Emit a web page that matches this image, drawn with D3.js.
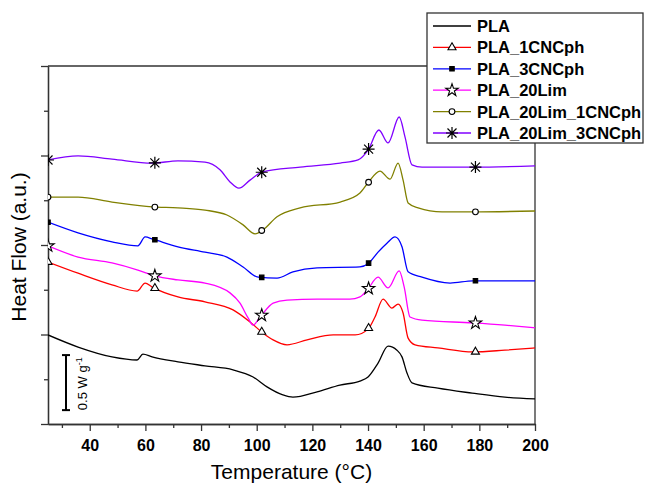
<!DOCTYPE html>
<html>
<head>
<meta charset="utf-8">
<script src="https://cdn.jsdelivr.net/npm/d3@7"></script>
<style>
  body { margin: 0; background: #fff; }
  text { font-family: "Liberation Sans", Arial, sans-serif; fill: #000; }
</style>
</head>
<body>
<svg id="chart" width="646" height="486"></svg>
<script>
// DSC traces, temperature (°C) and heat flow (a.u.)
var tPLA  = [25, 35.8, 48, 57, 59.1, 62.4, 71.7, 81.4, 91.5, 98.7, 103.7, 109.4, 113, 121.7, 129.9, 137.1, 140, 143.6, 147.2, 150.4, 152.2, 154, 155.8, 165.1, 177.4, 189.2, 200];
var hfPLA = [1.99, 1.72, 1.50, 1.43, 1.56, 1.50, 1.39, 1.30, 1.21, 1.05, 0.83, 0.65, 0.60, 0.72, 0.87, 0.96, 1.05, 1.36, 1.74, 1.65, 1.50, 1.14, 0.92, 0.80, 0.69, 0.60, 0.56];

var t1CN  = [25, 35.8, 48, 57, 59.9, 62.4, 71.7, 81.4, 91.5, 97.6, 102.3, 105.9, 110.9, 118.1, 127.5, 135.4, 140, 142.5, 145.4, 148.6, 150.8, 152.6, 154.4, 156.9, 165.1, 177.7, 189.2, 200];
var hf1CN = [3.62, 3.37, 3.11, 2.97, 3.15, 3.06, 2.84, 2.73, 2.55, 2.28, 2.03, 1.88, 1.77, 1.88, 1.99, 1.99, 2.12, 2.39, 2.79, 2.59, 2.68, 2.48, 1.92, 1.77, 1.70, 1.61, 1.65, 1.70];

var t3CN  = [25, 35.8, 48, 57.3, 59.9, 62.7, 71.7, 81.4, 89.3, 95.1, 100.5, 107.3, 113, 121.7, 137.1, 140, 143.6, 146.8, 149.7, 152.2, 154.4, 159.4, 169.5, 177.7, 200];
var hf3CN = [4.51, 4.27, 4.07, 3.98, 4.18, 4.13, 3.96, 3.84, 3.73, 3.51, 3.28, 3.26, 3.40, 3.49, 3.51, 3.58, 3.84, 4.04, 4.18, 3.96, 3.40, 3.28, 3.15, 3.20, 3.20];

var tLim  = [25, 35.8, 48, 57.3, 63.4, 71.7, 81.4, 90.4, 94, 96.9, 98.7, 101.2, 105.9, 110.9, 121.7, 133.5, 137.1, 139.7, 143.6, 147.2, 151.2, 153, 155.1, 159.4, 177.7, 189.2, 200];
var hfLim = [3.98, 3.73, 3.60, 3.44, 3.31, 3.22, 3.15, 2.93, 2.70, 2.37, 2.21, 2.39, 2.70, 2.77, 2.79, 2.79, 2.84, 2.99, 3.28, 3.04, 3.42, 3.06, 2.39, 2.32, 2.26, 2.21, 2.15];

var tLim1  = [25, 35.8, 48, 62.4, 71.7, 81.4, 89.3, 95.1, 99.4, 102.3, 107.3, 115.6, 130, 137.1, 140, 144.3, 147.9, 150.8, 152.6, 154.4, 158, 166.6, 177.7, 200];
var hfLim1 = [5.07, 5.07, 4.96, 4.85, 4.83, 4.78, 4.67, 4.45, 4.25, 4.34, 4.63, 4.83, 4.96, 5.16, 5.39, 5.65, 5.47, 5.83, 5.45, 4.94, 4.83, 4.74, 4.74, 4.76];

var tLim3  = [25, 35.8, 48, 62.4, 71.7, 81.4, 86.8, 90.4, 93.6, 97.6, 101.9, 115.6, 130, 136.4, 140, 143.9, 147.2, 151.2, 153.3, 155.8, 159.4, 177.7, 200];
var hfLim3 = [5.90, 5.99, 5.92, 5.83, 5.88, 5.85, 5.68, 5.41, 5.27, 5.45, 5.63, 5.74, 5.83, 5.90, 6.12, 6.57, 6.28, 6.86, 6.41, 5.79, 5.74, 5.74, 5.77];

var seriesNames = ["PLA", "PLA_1CNCph", "PLA_3CNCph", "PLA_20Lim", "PLA_20Lim_1CNCph", "PLA_20Lim_3CNCph"];
var markerTemps = [25, 63.4, 101.8, 140.2, 178.6];
var xMajor = [40, 60, 80, 100, 120, 140, 160, 180, 200];
var xMinor = [30, 50, 70, 90, 110, 130, 150, 170, 190];
var yMajor = [0, 2, 4, 6, 8];
var yMinor = [1, 3, 5, 7];
var scaleBar = [0.31, 1.54];   // 0.5 W/g

var series = [
  {name: seriesNames[0], t: tPLA,  v: hfPLA,  color: "#000000", marker: null},
  {name: seriesNames[1], t: t1CN,  v: hf1CN,  color: "#ff0000", marker: "triangle"},
  {name: seriesNames[2], t: t3CN,  v: hf3CN,  color: "#0000ff", marker: "square"},
  {name: seriesNames[3], t: tLim,  v: hfLim,  color: "#ff00ff", marker: "star"},
  {name: seriesNames[4], t: tLim1, v: hfLim1, color: "#808000", marker: "circle"},
  {name: seriesNames[5], t: tLim3, v: hfLim3, color: "#8000ff", marker: "asterisk"}
];

var svg = d3.select("#chart");
var x = d3.scaleLinear().domain([25, 200]).range([48, 535]);
var y = d3.scaleLinear().domain([0, 8]).range([424, 66]);

svg.append("clipPath").attr("id", "plot")
  .append("rect").attr("x", 48).attr("y", 66).attr("width", 487).attr("height", 358);

// frame top / right
svg.append("line").attr("x1", x(25)).attr("x2", x(200)).attr("y1", y(8)).attr("y2", y(8))
  .attr("stroke", "#333").attr("stroke-width", 1.3);
svg.append("line").attr("x1", x(200)).attr("x2", x(200)).attr("y1", y(8)).attr("y2", y(0))
  .attr("stroke", "#333").attr("stroke-width", 1.3);

var styleAxis = function(g) {
  g.selectAll("path, line").attr("stroke", "#333").attr("stroke-width", 1.3);
  g.selectAll("text").style("font-size", "16px").style("font-weight", "bold").attr("fill", "#111");
};

svg.append("g").attr("transform", "translate(0,424)")
  .call(d3.axisBottom(x).tickValues(xMinor).tickSize(4).tickSizeOuter(0).tickFormat(""))
  .call(styleAxis);
svg.append("g").attr("transform", "translate(0,424)")
  .call(d3.axisBottom(x).tickValues(xMajor).tickSize(7).tickSizeOuter(0).tickPadding(9).tickFormat(d3.format("d")))
  .call(styleAxis);

svg.append("g").attr("transform", "translate(48,0)")
  .call(d3.axisLeft(y).tickValues(yMinor).tickSize(4).tickSizeOuter(0).tickFormat(""))
  .call(styleAxis);
svg.append("g").attr("transform", "translate(48,0)")
  .call(d3.axisLeft(y).tickValues(yMajor).tickSize(7).tickSizeOuter(0).tickFormat(""))
  .call(styleAxis);

// curves
var line = d3.line()
  .x(function(d) { return x(d[0]); })
  .y(function(d) { return y(d[1]); })
  .curve(d3.curveMonotoneX);

var plot = svg.append("g").attr("clip-path", "url(#plot)");

series.forEach(function(s) {
  plot.append("path")
    .datum(d3.zip(s.t, s.v))
    .attr("fill", "none")
    .attr("stroke", s.color)
    .attr("stroke-width", 1.3)
    .attr("d", line);
});

var interp = function(ts, vs, t) {
  var i = Math.min(Math.max(d3.bisectRight(ts, t), 1), ts.length - 1);
  var f = (t - ts[i - 1]) / (ts[i] - ts[i - 1]);
  return vs[i - 1] + f * (vs[i] - vs[i - 1]);
};

var drawMarker = function(g, kind, cx, cy) {
  if (kind === "asterisk") {
    var r = 6;
    g.append("path")
      .attr("d", "M" + cx + "," + (cy - r) + "V" + (cy + r) +
                 "M" + (cx - r * 0.75) + "," + (cy - r * 0.75) + "L" + (cx + r * 0.75) + "," + (cy + r * 0.75) +
                 "M" + (cx - r * 0.75) + "," + (cy + r * 0.75) + "L" + (cx + r * 0.75) + "," + (cy - r * 0.75) +
                 "M" + (cx - r) + "," + cy + "H" + (cx + r))
      .attr("stroke", "#000").attr("stroke-width", 1.2).attr("fill", "none");
    return;
  }
  var type = {triangle: d3.symbolTriangle, square: d3.symbolSquare, star: d3.symbolStar, circle: d3.symbolCircle}[kind];
  var size = {triangle: 28, square: 20, star: 48, circle: 26}[kind];
  g.append("path")
    .attr("d", d3.symbol().type(type).size(size)())
    .attr("transform", "translate(" + cx + "," + cy + ")")
    .attr("fill", kind === "square" ? "#000" : "#fff")
    .attr("stroke", "#000")
    .attr("stroke-width", 1.1);
};

series.forEach(function(s) {
  if (!s.marker) return;
  markerTemps.forEach(function(t) {
    drawMarker(plot, s.marker, x(t), y(interp(s.t, s.v, t)));
  });
});

// scale bar
var sb = svg.append("g").attr("stroke", "#000").attr("stroke-width", 2);
sb.append("line").attr("x1", 66).attr("x2", 66).attr("y1", y(scaleBar[0])).attr("y2", y(scaleBar[1]));
sb.append("line").attr("x1", 62).attr("x2", 70).attr("y1", y(scaleBar[0])).attr("y2", y(scaleBar[0]));
sb.append("line").attr("x1", 62).attr("x2", 70).attr("y1", y(scaleBar[1])).attr("y2", y(scaleBar[1]));
var sbt = svg.append("text")
  .attr("transform", "translate(87," + y(scaleBar[0]) + ") rotate(-90)")
  .style("font-size", "13px");
sbt.append("tspan").text("0.5 W g");
sbt.append("tspan").attr("dy", -5).style("font-size", "9px").text("-1");

// axis titles
svg.append("text")
  .attr("x", x(112.5)).attr("y", 479)
  .attr("text-anchor", "middle")
  .style("font-size", "21px")
  .text("Temperature (°C)");
svg.append("text")
  .attr("transform", "translate(26,247) rotate(-90)")
  .attr("text-anchor", "middle")
  .style("font-size", "21px")
  .text("Heat Flow (a.u.)");

// legend
var legend = svg.append("g");
legend.append("rect")
  .attr("x", 427).attr("y", 13).attr("width", 216).attr("height", 130)
  .attr("fill", "#fff").attr("stroke", "#333").attr("stroke-width", 1.3);
series.forEach(function(s, i) {
  var ly = 26 + i * 21.4;
  legend.append("line").attr("x1", 433).attr("x2", 471).attr("y1", ly).attr("y2", ly)
    .attr("stroke", s.color).attr("stroke-width", 1.3);
  if (s.marker) drawMarker(legend, s.marker, 452, ly);
  legend.append("text").attr("x", 477).attr("y", ly + 6)
    .style("font-size", "16.5px")
    .style("font-weight", "bold")
    .attr("fill", "#111")
    .text(s.name);
});
</script>
</body>
</html>
